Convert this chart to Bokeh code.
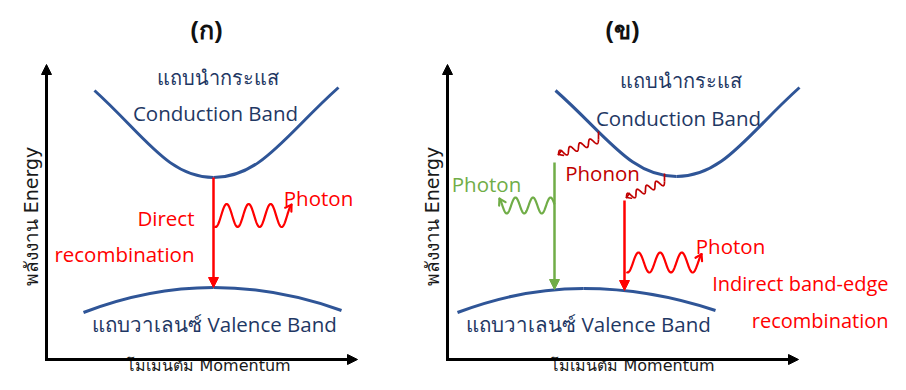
import numpy as np
from bokeh.plotting import figure
from bokeh.models import Range1d, Arrow, NormalHead, ColumnDataSource
from bokeh.core.properties import value
from bokeh.embed import file_html
from bokeh.resources import INLINE

# ---------------- diagram data (pixel units) ----------------
panel_titles = ["(ก)", "(ข)"]
title_x = [206, 622]
title_y = [28, 28]

axis_x0 = [46, 447]          # origin of each panel's axes
axis_y0 = [359, 359]
axis_top = [64, 64]          # tip of the energy axis
axis_right = [357, 798]      # tip of the momentum axis
ylabel_x = [30, 431]
ylabel_y = [216, 216]
xlabel_x = [208, 632]
xlabel_y = [374, 374]
y_label = "พลังงาน Energy"
x_label = "โมเมนตัม Momentum"

# conduction band: left end, minimum, right end
cb_left_x = [94, 555]
cb_left_y = [90, 90]
cb_min_x = [213, 676]
cb_min_y = [177, 176]
cb_right_x = [338, 799]
cb_right_y = [87, 87]

# valence band: left end, maximum, right end
vb_left_x = [83, 457]
vb_left_y = [312, 312]
vb_max_x = [213, 583]
vb_max_y = [287, 288]
vb_right_x = [341, 715]
vb_right_y = [310, 310]

# vertical recombination transitions
trans_x = [213, 554, 624]
trans_y0 = [177, 162, 200]
trans_y1 = [287, 289, 290]
trans_color = ["#FF0000", "#70AD47", "#FF0000"]

# wavy photon / phonon arrows
wave_x0 = [214, 626, 554, 598, 664]
wave_y0 = [215, 262, 205, 139, 181]
wave_x1 = [291, 701, 499, 558, 626]
wave_y1 = [215, 262, 205, 154, 197]
wave_cycles = [3.5, 3.46, 3.14, 4.0, 4.0]
wave_amp = [11.5, 10.0, 8.0, 3.5, 3.5]
wave_phase = [-1.90, -1.90, -3.0, 0.0, 0.0]
wave_color = ["#FF0000", "#FF0000", "#70AD47", "#C00000", "#C00000"]
wave_width = [2.2, 2.2, 2.2, 1.7, 1.7]
wave_head = [7, 7, 7, 5, 5]
wave_head_along_axis = [False, False, False, True, True]
phonon_stub_x = [598, 664]
phonon_stub_y0 = [131, 173]
phonon_stub_y1 = [139, 181]

# labels
thai_band_labels = ["แถบนำกระแส", "แถบนำกระแส"]
thai_band_x = [217, 680]
thai_band_y = [77, 80]
band_labels = ["Conduction Band", "แถบวาเลนซ์ Valence Band",
               "Conduction Band", "แถบวาเลนซ์ Valence Band"]
band_label_x = [215, 214, 678, 588]
band_label_y = [112, 323, 117, 323]

red_labels = ["Photon", "Photon"]
red_label_x = [318, 730]
red_label_y = [197, 245]
red_right_labels = ["Direct", "recombination"]
red_right_x = [194, 194]
red_right_y = [217, 253]
edge_labels = ["Indirect band-edge", "recombination"]
edge_x = [888, 888]
edge_y = [283, 320]
green_labels = ["Photon"]
green_label_x = [486]
green_label_y = [183]
darkred_labels = ["Phonon"]
darkred_label_x = [602]
darkred_label_y = [172]

NAVY_TEXT = "#1F3864"
BAND_LINE = "#2F5597"
FONT = "Open Sans"
FONT2 = "DejaVu Sans"

p = figure(width=890, height=374, x_range=Range1d(0, 890), y_range=Range1d(374, 0),
           output_backend="svg", toolbar_location=None,
           x_axis_location=None, y_axis_location=None, min_border=0)
p.grid.visible = False
p.outline_line_color = None
p.background_fill_color = "white"
p.border_fill_color = "white"

# axes arrows
for i in range(2):
    for (xs, ys, xe, ye) in [(axis_x0[i], axis_y0[i] + 1.5, axis_x0[i], axis_top[i]),
                             (axis_x0[i] - 1.5, axis_y0[i], axis_right[i], axis_y0[i])]:
        p.add_layout(Arrow(end=NormalHead(size=10, fill_color="black", line_color="black", line_width=1),
                           x_start=xs, y_start=ys, x_end=xe, y_end=ye,
                           line_color="black", line_width=3))

# conduction bands: two cubic halves with a flat minimum
cb = dict(x0=[], y0=[], x1=[], y1=[], cx0=[], cy0=[], cx1=[], cy1=[])
for i in range(2):
    for (xe, ye) in [(cb_left_x[i], cb_left_y[i]), (cb_right_x[i], cb_right_y[i])]:
        dx = cb_min_x[i] - xe
        dy = cb_min_y[i] - ye
        cb["x0"].append(xe); cb["y0"].append(ye)
        cb["x1"].append(cb_min_x[i]); cb["y1"].append(cb_min_y[i])
        cb["cx0"].append(xe + 0.42 * dx); cb["cy0"].append(ye + 0.52 * dy)
        cb["cx1"].append(cb_min_x[i] - 0.38 * dx); cb["cy1"].append(cb_min_y[i])
p.bezier(x0="x0", y0="y0", x1="x1", y1="y1", cx0="cx0", cy0="cy0", cx1="cx1", cy1="cy1",
         source=ColumnDataSource(cb), line_color=BAND_LINE, line_width=3)

# valence bands: two quadratic halves meeting at the maximum
vb = dict(x0=[], y0=[], x1=[], y1=[], cx=[], cy=[])
for i in range(2):
    for (xe, ye) in [(vb_left_x[i], vb_left_y[i]), (vb_right_x[i], vb_right_y[i])]:
        vb["x0"].append(xe); vb["y0"].append(ye)
        vb["x1"].append(vb_max_x[i]); vb["y1"].append(vb_max_y[i])
        vb["cx"].append((xe + vb_max_x[i]) / 2); vb["cy"].append(vb_max_y[i])
p.quadratic(x0="x0", y0="y0", x1="x1", y1="y1", cx="cx", cy="cy",
            source=ColumnDataSource(vb), line_color=BAND_LINE, line_width=3)

# recombination arrows
for i in range(len(trans_x)):
    c = trans_color[i]
    p.add_layout(Arrow(end=NormalHead(size=10, fill_color=c, line_color=c, line_width=1),
                       x_start=trans_x[i], y_start=trans_y0[i], x_end=trans_x[i], y_end=trans_y1[i],
                       line_color=c, line_width=2.5))

# phonon stubs from the conduction band
p.segment(x0=phonon_stub_x, y0=phonon_stub_y0, x1=phonon_stub_x, y1=phonon_stub_y1,
          line_color="#C00000", line_width=1.7)

# wavy arrows
for i in range(len(wave_x0)):
    sx, sy, ex, ey = wave_x0[i], wave_y0[i], wave_x1[i], wave_y1[i]
    L = np.hypot(ex - sx, ey - sy)
    d = np.array([(ex - sx) / L, (ey - sy) / L])
    n = np.array([d[1], -d[0]])
    s = np.linspace(0, L, 200)
    off = wave_amp[i] * np.sin(2 * np.pi * wave_cycles[i] * s / L + wave_phase[i])
    xs = sx + d[0] * s + n[0] * off
    ys = sy + d[1] * s + n[1] * off
    p.line(xs, ys, line_color=wave_color[i], line_width=wave_width[i], line_join="round")
    if wave_head_along_axis[i]:
        t = d
    else:
        t = np.array([xs[-1] - xs[-4], ys[-1] - ys[-4]])
        t = t / np.hypot(*t)
    h = wave_head[i]
    bx, by = [], []
    for ang in (0.55, -0.55):
        ca, sa = np.cos(ang), np.sin(ang)
        r = np.array([t[0] * ca - t[1] * sa, t[0] * sa + t[1] * ca])
        bx.append([xs[-1], xs[-1] - h * r[0]])
        by.append([ys[-1], ys[-1] - h * r[1]])
    p.multi_line(bx, by, line_color=wave_color[i], line_width=wave_width[i], line_cap="round")

# titles
p.text(x=title_x, y=title_y, text=panel_titles, text_font=value("Noto Sans"), text_font_size="25px",
       text_font_style="bold", text_align="center", text_baseline="middle", text_color="#111111")

# axis labels
p.text(x=ylabel_x, y=ylabel_y, text=[y_label, y_label], angle=np.pi / 2, text_font=value(FONT2),
       text_font_size="19px", text_align="center", text_baseline="middle", text_color="#1a1a1a")
p.text(x=xlabel_x, y=xlabel_y, text=[x_label, x_label], text_font=value(FONT2),
       text_font_size="16px", text_align="center", text_baseline="bottom", text_color="#1a1a1a")

# band labels
p.text(x=thai_band_x, y=thai_band_y, text=thai_band_labels, text_font=value(FONT), text_font_size="20px",
       text_align="center", text_baseline="middle", text_color=NAVY_TEXT)
p.text(x=band_label_x, y=band_label_y, text=band_labels, text_font=value(FONT), text_font_size="20.5px",
       text_align="center", text_baseline="middle", text_color=NAVY_TEXT)

# coloured labels
p.text(x=red_label_x, y=red_label_y, text=red_labels, text_font=value(FONT), text_font_size="20.5px",
       text_align="center", text_baseline="middle", text_color="#FF0000")
p.text(x=red_right_x, y=red_right_y, text=red_right_labels, text_font=value(FONT), text_font_size="20.5px",
       text_align="right", text_baseline="middle", text_color="#FF0000")
p.text(x=edge_x, y=edge_y, text=edge_labels, text_font=value(FONT), text_font_size="20px",
       text_align="right", text_baseline="middle", text_color="#FF0000")
p.text(x=green_label_x, y=green_label_y, text=green_labels, text_font=value(FONT), text_font_size="20.5px",
       text_align="center", text_baseline="middle", text_color="#70AD47")
p.text(x=darkred_label_x, y=darkred_label_y, text=darkred_labels, text_font=value(FONT), text_font_size="20.5px",
       text_align="center", text_baseline="middle", text_color="#C00000")

open("out.html", "w").write(file_html(p, INLINE))
